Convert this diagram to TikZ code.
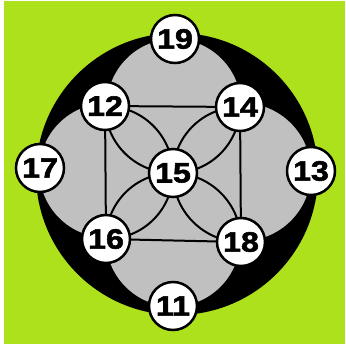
\documentclass[tikz,border=0pt]{standalone}
\usepackage{fontspec}
\setmainfont{Liberation Sans}
\newfontfamily\numfont{Liberation Sans}[BoldFeatures={FakeBold=2,FakeStretch=1.15}]
\usetikzlibrary{calc}
\definecolor{bggreen}{RGB}{173,225,28}
\definecolor{lobegrey}{RGB}{192,192,192}
\pgfdeclarelayer{bgl}
\pgfdeclarelayer{lnl}
\pgfsetlayers{bgl,lnl,main}
\begin{document}
\begin{tikzpicture}[x=1pt,y=-1pt,
  num/.style={circle,draw=black,fill=white,line width=2.5pt,minimum size=48pt,inner sep=0pt,
    font=\numfont\fontsize{28}{28}\selectfont\bfseries},
  link/.style={line width=2pt,draw=black},
  lobe/.style={fill=lobegrey}]
\useasboundingbox (0,0) rectangle (345,347);
% nodes
\node[num] (n15) at (173,173) {15};
\node[num] (n12) at (105,106) {12};
\node[num] (n14) at (240,107) {14};
\node[num] (n16) at (106,239) {16};
\node[num] (n18) at (241,242) {18};
\node[num] (n19) at (175,39) {19};
\node[num] (n11) at (173,306) {11};
\node[num] (n17) at (40,168) {17};
\node[num] (n13) at (311,171) {13};
\begin{pgfonlayer}{bgl}
\fill[white] (0,0) rectangle (345,347);
\fill[bggreen] (4,1) rectangle (345,344);
\fill[black] (177,174) circle[radius=141pt];
\fill[lobe] ($(n15.center)!0.5!(n19.center)$) circle[radius=67pt];
\fill[lobe] ($(n15.center)!0.5!(n11.center)$) circle[radius=67pt];
\fill[lobe] ($(n15.center)!0.5!(n17.center)$) circle[radius=67pt];
\fill[lobe] ($(n15.center)!0.5!(n13.center)$) circle[radius=69pt];
\end{pgfonlayer}
\begin{pgfonlayer}{lnl}
\draw[link] (n12.center) -- (n14.center) -- (n18.center) -- (n16.center) -- cycle;
\draw[link] (n12.center) to[bend right=45] (n15.center);
\draw[link] (n12.center) to[bend left=45] (n15.center);
\draw[link] (n14.center) to[bend left=45] (n15.center);
\draw[link] (n14.center) to[bend right=45] (n15.center);
\draw[link] (n16.center) to[bend right=45] (n15.center);
\draw[link] (n16.center) to[bend left=45] (n15.center);
\draw[link] (n18.center) to[bend left=45] (n15.center);
\draw[link] (n18.center) to[bend right=45] (n15.center);
\end{pgfonlayer}
\end{tikzpicture}
\end{document}
